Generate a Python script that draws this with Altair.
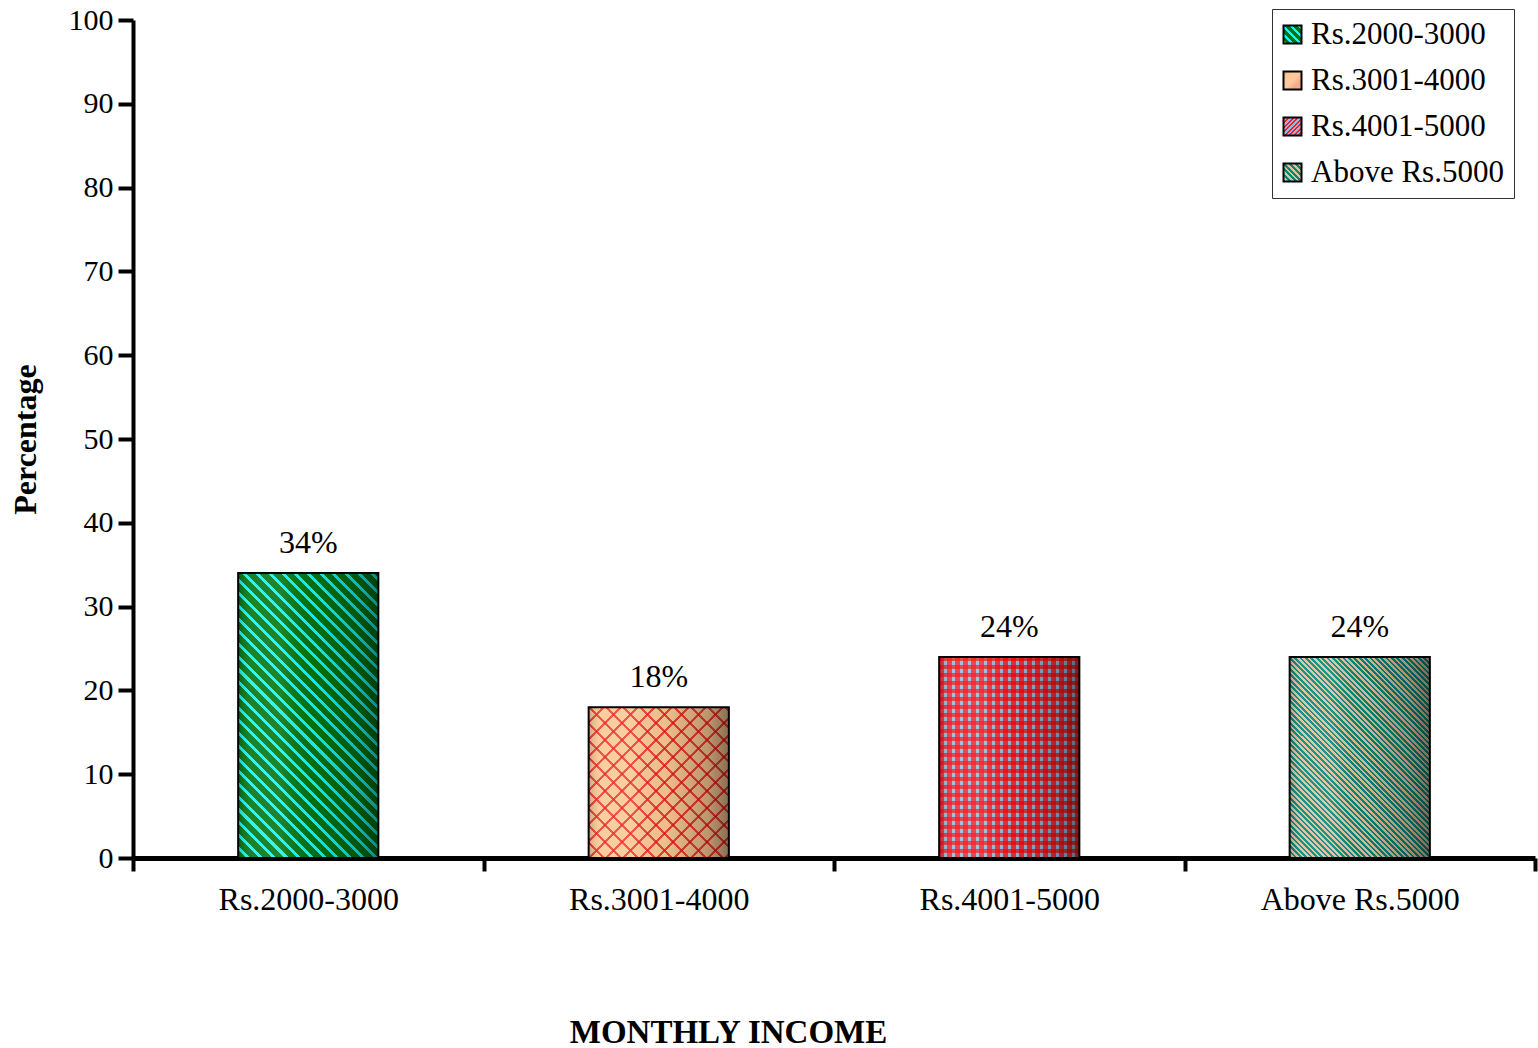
import math

import altair as alt
import pandas as pd

# Monthly income groups and the share of respondents in each
income_groups = ["Rs.2000-3000", "Rs.3001-4000", "Rs.4001-5000", "Above Rs.5000"]
percentages = [34, 18, 24, 24]

FONT = "Liberation Serif"
PLOT_W, PLOT_H = 1402, 838
Y_MAX = 100
BAND_FRACTION = 0.4
STEP = PLOT_W / len(income_groups)
BAR_W = STEP * BAND_FRACTION

df = pd.DataFrame({"group": income_groups, "pct": percentages})
df["label"] = [f"{p}%" for p in percentages]


def bar_height(value):
    return value / Y_MAX * PLOT_H


def _stops(n, parts):
    """Hard-edged colour stops repeating `parts` (colour, fraction) n times over [0, 1]."""
    stops = []
    k = 0
    while k < n:
        pos = 0.0
        for color, frac in parts:
            a = (k + pos) / n
            b = (k + pos + frac) / n
            if a >= 1:
                break
            stops.append({"offset": round(a, 5), "color": color})
            stops.append({"offset": round(min(b, 1.0), 5), "color": color})
            pos += frac
        k += 1
    return stops


def diagonal(bw, bh, period, parts, direction="down"):
    """45-degree stripes inside a bw x bh box; 'down' runs top-left to bottom-right."""
    r = bh / bw
    s = (1 + r) / (1 + r * r)
    n = (bw + bh) / (math.sqrt(2) * period)
    if direction == "down":
        geom = dict(x1=0, y1=1, x2=round(s, 5), y2=round(1 - r * s, 5))
    else:
        geom = dict(x1=0, y1=0, x2=round(s, 5), y2=round(r * s, 5))
    return {"gradient": "linear", "stops": _stops(n, parts), **geom}


def straight(length, period, parts, vertical_lines=True):
    n = length / period
    geom = dict(x1=0, y1=0, x2=1, y2=0) if vertical_lines else dict(x1=0, y1=0, x2=0, y2=1)
    return {"gradient": "linear", "stops": _stops(n, parts), **geom}


def as_expr(obj):
    """Write a gradient dict as a Vega expression object literal."""
    if isinstance(obj, dict):
        return "{" + ",".join(f"{k}:{as_expr(v)}" for k, v in obj.items()) + "}"
    if isinstance(obj, list):
        return "[" + ",".join(as_expr(v) for v in obj) + "]"
    if isinstance(obj, str):
        return "'" + obj + "'"
    return repr(obj)


CLEAR = "rgba(0,0,0,0)"
GREEN, CYAN = "#007410", "#1cf2ee"
PEACH, LATTICE = "#fbc894", "rgba(235,20,20,0.75)"
CHECK_BLUE, CHECK_RED = "#98b6e4", "rgba(255,0,0,0.72)"
TEAL, TAN = "#00857c", "#dcc298"

# small swatches for the legend symbols (square boxes)
SYM = 18
legend_fills = [
    diagonal(SYM, SYM, 5.5, [(CYAN, 0.4), (GREEN, 0.6)]),
    {"gradient": "linear", "x1": 0, "y1": 0, "x2": 1, "y2": 1,
     "stops": [{"offset": 0, "color": "#f4a27c"}, {"offset": 0.2, "color": PEACH},
               {"offset": 0.5, "color": "#ffc9a0"}, {"offset": 0.75, "color": "#f6a98a"},
               {"offset": 1, "color": "#f5b58c"}]},
    diagonal(SYM, SYM, 3.2, [("#ff1a1a", 0.5), (CHECK_BLUE, 0.5)], "up"),
    diagonal(SYM, SYM, 4.0, [(TEAL, 0.5), (TAN, 0.5)]),
]

# cylinder-like horizontal shading laid over every bar
shade = {
    "gradient": "linear",
    "x1": 0, "y1": 0, "x2": 1, "y2": 0,
    "stops": [
        {"offset": 0.0, "color": "rgba(0,0,0,0.18)"},
        {"offset": 0.08, "color": "rgba(255,255,255,0.10)"},
        {"offset": 0.3, "color": "rgba(255,255,255,0.12)"},
        {"offset": 0.55, "color": "rgba(0,0,0,0.05)"},
        {"offset": 0.85, "color": "rgba(0,0,0,0.25)"},
        {"offset": 1.0, "color": "rgba(0,0,0,0.45)"},
    ],
}

x_enc = alt.X(
    "group:N",
    sort=income_groups,
    scale=alt.Scale(paddingInner=0, paddingOuter=0),
    axis=alt.Axis(
        title="MONTHLY INCOME",
        labelAngle=0,
        labelFont=FONT,
        labelFontSize=32,
        labelColor="black",
        labelPadding=13,
        labelLimit=0,
        tickBand="extent",
        tickSize=13,
        tickWidth=4,
        tickColor="black",
        domainWidth=5,
        domainColor="black",
        titleFont=FONT,
        titleFontSize=33,
        titleFontWeight="bold",
        titleColor="black",
        titleX=595,
        titleY=184,
        titleBaseline="alphabetic",
        titleAnchor="middle",
        grid=False,
    ),
)
y_enc = alt.Y(
    "pct:Q",
    scale=alt.Scale(domain=[0, Y_MAX], nice=False),
    axis=alt.Axis(
        title="Percentage",
        values=list(range(0, 101, 10)),
        labelFont=FONT,
        labelFontSize=30,
        labelColor="black",
        labelPadding=5,
        tickSize=15,
        tickWidth=4,
        tickColor="black",
        domainWidth=4,
        domainColor="black",
        titleFont=FONT,
        titleFontSize=32,
        titleFontWeight="bold",
        titleColor="black",
        titleX=-108,
        titleY=419,
        titleAngle=270,
        titleAlign="center",
        titleBaseline="middle",
        grid=False,
    ),
)

base = alt.Chart(df)
BAR = dict(width=alt.RelativeBandSize(band=BAND_FRACTION))

solid = base.mark_bar(**BAR).encode(
    x=x_enc,
    y=y_enc,
    color=alt.Color(
        "group:N",
        sort=income_groups,
        scale=alt.Scale(
            domain=income_groups,
            range=[alt.ExprRef(expr=as_expr(f)) for f in legend_fills],
        ),
        title=None,
        legend=alt.Legend(
            orient="none",
            legendX=1139,
            legendY=-11,
            symbolType="square",
            symbolSize=SYM * SYM,
            symbolStrokeColor="black",
            symbolStrokeWidth=2,
            symbolOpacity=1,
            symbolOffset=-5,
            labelFont=FONT,
            labelFontSize=31,
            labelColor="black",
            labelOffset=3,
            labelLimit=0,
            rowPadding=14,
            padding=10,
            fillColor="white",
            strokeColor="#333333",
            cornerRadius=0,
        ),
    ),
)


def pattern_layer(group, fill):
    return (
        base.transform_filter(alt.datum.group == group)
        .mark_bar(fill=fill, **BAR)
        .encode(x=x_enc, y=y_enc)
    )


h = {g: bar_height(v) for g, v in zip(income_groups, percentages)}

layers = [solid]
# green bar with cyan diagonal stripes
g = income_groups[0]
layers.append(pattern_layer(g, diagonal(BAR_W, h[g], 9.0, [(GREEN, 0.68), (CYAN, 0.32)])))
# peach bar with a red lattice
g = income_groups[1]
layers.append(pattern_layer(g, PEACH))
layers.append(pattern_layer(g, diagonal(BAR_W, h[g], 12.0, [(CLEAR, 0.82), (LATTICE, 0.18)], "down")))
layers.append(pattern_layer(g, diagonal(BAR_W, h[g], 12.0, [(CLEAR, 0.82), (LATTICE, 0.18)], "up")))
# red / light-blue check
g = income_groups[2]
layers.append(pattern_layer(g, CHECK_BLUE))
layers.append(pattern_layer(g, straight(BAR_W, 8.0, [(CHECK_RED, 0.55), (CLEAR, 0.45)], True)))
layers.append(pattern_layer(g, straight(h[g], 8.0, [(CHECK_RED, 0.55), (CLEAR, 0.45)], False)))
# teal / tan fine diagonal stripes
g = income_groups[3]
layers.append(pattern_layer(g, diagonal(BAR_W, h[g], 3.8, [(TEAL, 0.5), (TAN, 0.5)])))

# shading and outline on every bar
layers.append(base.mark_bar(fill=shade, **BAR).encode(x=x_enc, y=y_enc))
layers.append(
    base.mark_bar(fillOpacity=0, stroke="black", strokeWidth=2, **BAR).encode(x=x_enc, y=y_enc)
)

labels = base.mark_text(
    dy=-20, baseline="alphabetic", font=FONT, fontSize=32, color="black"
).encode(x=x_enc, y=y_enc, text="label:N")
layers.append(labels)

chart = (
    alt.layer(*layers)
    .properties(
        width=PLOT_W,
        height=PLOT_H,
        padding={"left": 133, "top": 20, "right": 3, "bottom": 190},
        autosize=alt.AutoSizeParams(type="none"),
        background="white",
    )
    .configure_view(stroke=None)
)

chart.save("out.html", embed_options={"renderer": "svg", "actions": False})
